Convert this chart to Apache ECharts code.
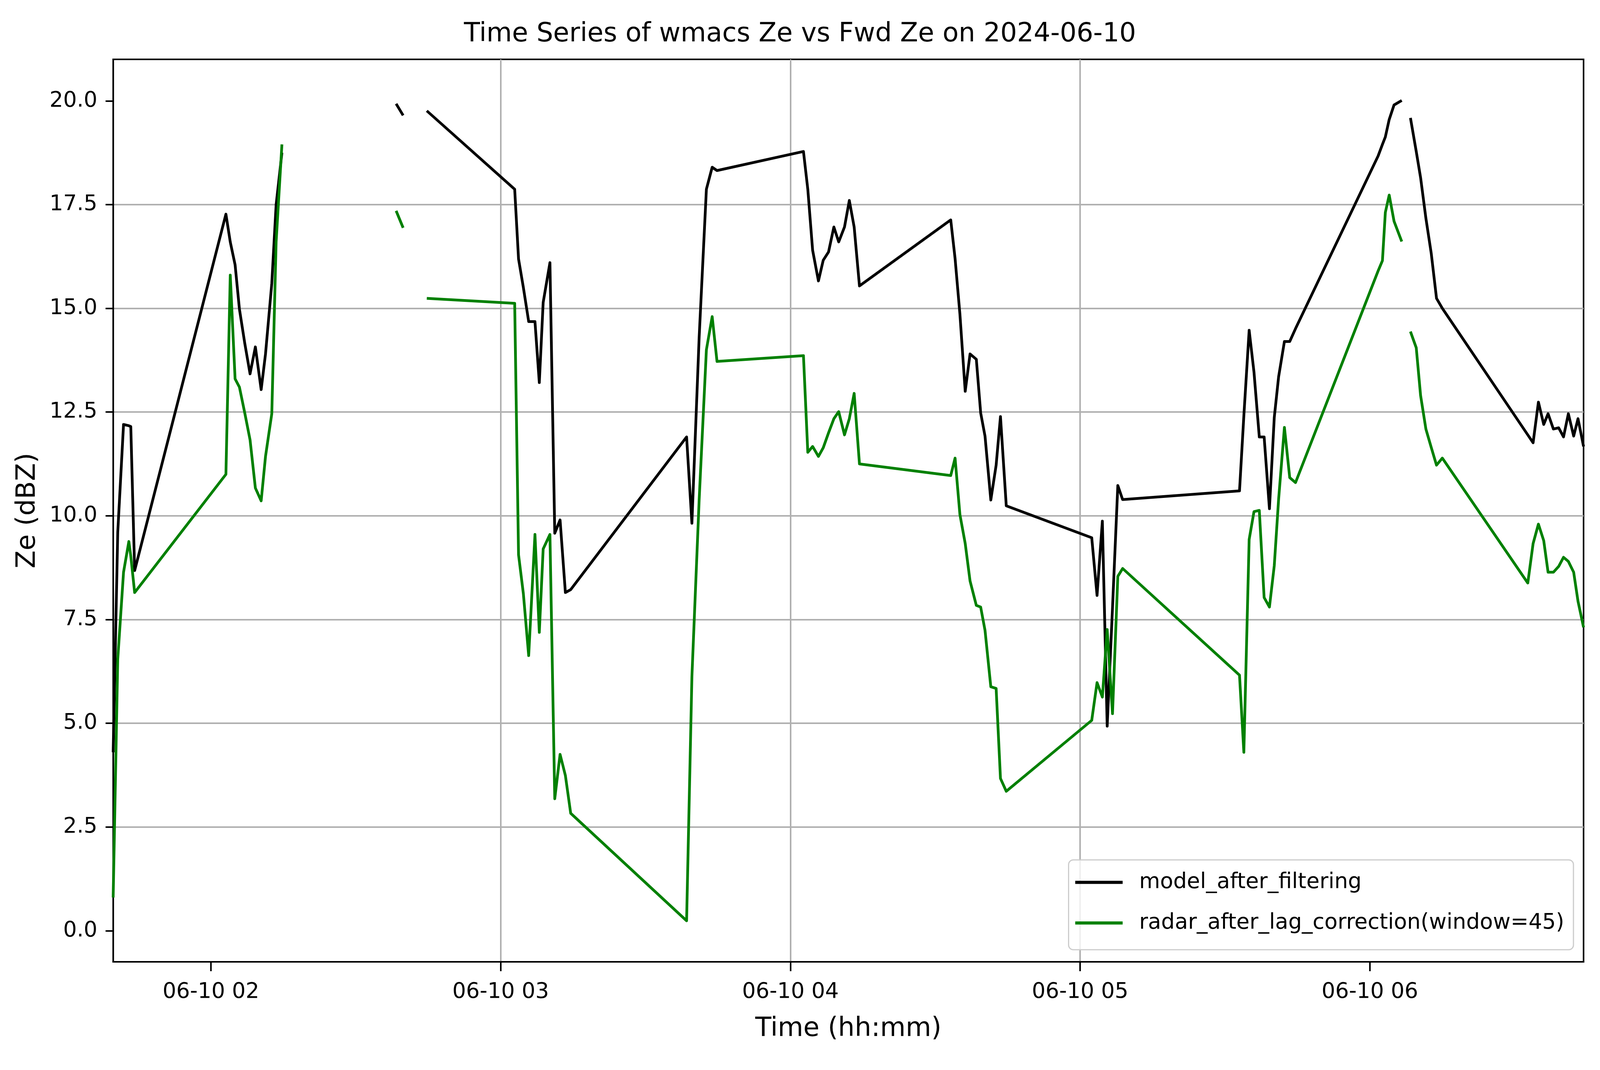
<!DOCTYPE html>
<html>
<head>
<meta charset="utf-8">
<title>wmacs Ze vs Fwd Ze</title>
<script src="https://cdn.jsdelivr.net/npm/echarts@6/dist/echarts.min.js"></script>
<style>
    html, body { margin: 0; padding: 0; background: #fff; overflow: hidden; }
    #chart { width: 100vw; height: 100vh; }
</style>
</head>
<body>
<div id="chart"></div>
<script>
var zeChart = echarts.init(document.getElementById("chart"));

/* sample times (hh:mm:ss on 2024-06-10), null values mark the gaps */
var times = [
    '01:39:45', '01:40:42', '01:41:54', '01:43:00', '01:43:24', '01:44:12',
    '02:03:06', '02:04:00', '02:05:00', '02:05:54', '02:07:00', '02:08:06',
    '02:09:12', '02:10:24', '02:11:18', '02:12:36', '02:13:30', '02:14:42',
    '02:25:00',
    '02:38:21', '02:39:48',
    '02:42:00',
    '02:44:42', '03:02:54', '03:03:42', '03:04:42', '03:05:48', '03:07:06',
    '03:08:00', '03:08:48', '03:10:12', '03:11:12', '03:12:18', '03:13:24', '03:14:30',
    '03:38:30', '03:39:36', '03:41:06', '03:42:36', '03:43:48', '03:44:48',
    '04:02:42', '04:03:36', '04:04:36', '04:05:48', '04:06:48', '04:07:54',
    '04:09:00', '04:10:00', '04:11:12', '04:12:12', '04:13:12', '04:14:18',
    '04:33:12', '04:34:06', '04:35:06', '04:36:12', '04:37:12', '04:38:30',
    '04:39:24', '04:40:18', '04:41:30', '04:42:36', '04:43:30', '04:44:42',
    '05:02:24', '05:03:30', '05:04:36', '05:05:36', '05:06:42', '05:07:48', '05:08:48',
    '05:33:00', '05:33:54', '05:35:00', '05:36:00', '05:37:06', '05:38:06',
    '05:39:12', '05:40:12', '05:41:06', '05:42:18', '05:43:24', '05:44:36',
    '06:01:42', '06:02:36', '06:03:12', '06:04:00', '06:05:00', '06:06:36',
    '06:07:30',
    '06:08:24', '06:09:36', '06:10:30', '06:11:36', '06:12:42', '06:13:48', '06:15:00',
    '06:32:42', '06:33:48', '06:34:54', '06:36:00', '06:36:54', '06:38:00',
    '06:39:06', '06:40:06', '06:41:06', '06:42:12', '06:43:06', '06:44:15'
];

var modelZe = [
    4.3, 9.6, 12.2, 12.17, 12.15, 8.68,
    17.27, 16.6, 16.05, 14.98, 14.16, 13.42,
    14.07, 13.04, 13.9, 15.6, 17.5, 18.75,
    null,
    19.93, 19.65,
    null,
    19.76, 17.87, 16.19, 15.5, 14.68, 14.68,
    13.21, 15.14, 16.1, 9.58, 9.9, 8.15, 8.22,
    11.9, 9.82, 14.3, 17.87, 18.4, 18.32,
    18.78, 17.87, 16.4, 15.66, 16.16, 16.36,
    16.96, 16.6, 16.96, 17.6, 16.96, 15.54,
    17.13, 16.2, 14.86, 13.0, 13.9, 13.77,
    12.48, 11.92, 10.38, 11.22, 12.39, 10.24,
    9.47, 8.08, 9.87, 4.93, 7.78, 10.73, 10.39,
    10.6, 12.41, 14.47, 13.46, 11.9, 11.9,
    10.17, 12.37, 13.35, 14.2, 14.2, 14.51,
    18.67, 18.95, 19.13, 19.55, 19.9, 20.01,
    null,
    19.59, 18.78, 18.15, 17.17, 16.33, 15.24, 15.0,
    11.95, 11.76, 12.74, 12.2, 12.46, 12.09,
    12.12, 11.9, 12.46, 11.92, 12.34, 11.67
];

var radarZe = [
    0.8, 6.54, 8.64, 9.38, 9.03, 8.15,
    11.0, 15.8, 13.3, 13.1, 12.48, 11.83,
    10.67, 10.36, 11.43, 12.46, 16.6, 18.95,
    null,
    17.35, 16.94,
    null,
    15.24, 15.12, 9.06, 8.12, 6.63, 9.55,
    7.19, 9.2, 9.55, 3.18, 4.25, 3.74, 2.83,
    0.24, 6.12, 10.38, 14.0, 14.8, 13.72,
    13.86, 11.53, 11.67, 11.43, 11.64, 12.0,
    12.34, 12.51, 11.95, 12.34, 12.95, 11.25,
    10.97, 11.39, 10.03, 9.33, 8.43, 7.84,
    7.8, 7.24, 5.88, 5.84, 3.67, 3.36,
    5.07, 5.98, 5.63, 7.26, 5.23, 8.54, 8.73,
    6.16, 4.3, 9.43, 10.1, 10.13, 8.03,
    7.8, 8.8, 10.4, 12.13, 10.92, 10.8,
    15.9, 16.15, 17.31, 17.73, 17.1, 16.61,
    null,
    14.44, 14.05, 12.9, 12.09, 11.65, 11.22, 11.39,
    8.38, 9.33, 9.8, 9.4, 8.64, 8.64,
    8.78, 9.0, 8.9, 8.64, 7.94, 7.31
];

var hourTicks = ['02:00:00', '03:00:00', '04:00:00', '05:00:00', '06:00:00'];
var zeTicks = [0, 2.5, 5, 7.5, 10, 12.5, 15, 17.5, 20];

/* hh:mm:ss -> UTC millis on 2024-06-10 */
function toMillis(hms) {
    var p = hms.split(':');
    return Date.UTC(2024, 5, 10, +p[0], +p[1], +p[2]);
}

function pairUp(values) {
    var res = [];
    for (var i = 0; i < times.length; i++) {
        res.push([toMillis(times[i]), values[i]]);
    }
    return res;
}

var hourValues = hourTicks.map(toMillis);
var FONT = 'DejaVu Sans';

/* the layout was measured on a 5062x2740 figure, scale it to the real window */
var sx = zeChart.getWidth() / 5062;
var sy = zeChart.getHeight() / 2740;

var zeOption = {
    backgroundColor: '#ffffff',
    animation: false,
    title: {
        text: 'Time Series of wmacs Ze vs Fwd Ze on 2024-06-10',
        left: 'center',
        top: 50 * sy,
        textStyle: {
            fontFamily: FONT,
            fontSize: 83 * sx,
            fontWeight: 'normal',
            color: '#000'
        }
    },
    grid: {
        left: 358 * sx,
        right: 52 * sx,
        top: 152 * sy,
        bottom: 277 * sy,
        show: true,
        borderColor: '#000',
        borderWidth: 4,
        containLabel: false
    },
    legend: {
        orient: 'vertical',
        right: 84 * sx,
        bottom: 308 * sy,
        icon: 'rect',
        itemWidth: 150 * sx,
        itemHeight: 8,
        itemGap: 21 * sy,
        padding: [16 * sy, 29 * sx, 27 * sy, 21 * sx],
        backgroundColor: 'rgba(255,255,255,0.8)',
        borderColor: '#cccccc',
        borderWidth: 3,
        borderRadius: 12,
        textStyle: {
            fontFamily: FONT,
            fontSize: 68 * sx,
            lineHeight: 83 * sy,
            color: '#000',
            padding: [0, 0, 0, 46 * sx]
        },
        data: ['model_after_filtering', 'radar_after_lag_correction(window=45)']
    },
    xAxis: {
        type: 'value',
        min: toMillis(times[0]),
        max: toMillis(times[times.length - 1]),
        minInterval: 3600000,
        maxInterval: 3600000,
        name: 'Time (hh:mm)',
        nameLocation: 'middle',
        nameGap: 139 * sy,
        nameTextStyle: { fontFamily: FONT, fontSize: 83 * sx, color: '#000' },
        axisLine: { show: true, onZero: false, lineStyle: { color: '#000', width: 4 } },
        axisTick: {
            show: true,
            length: 24 * sy,
            customValues: hourValues,
            lineStyle: { color: '#000', width: 4 }
        },
        axisLabel: {
            fontFamily: FONT,
            fontSize: 68 * sx,
            color: '#000',
            margin: 50 * sy,
            customValues: hourValues,
            formatter: function (v) {
                var h = new Date(v).getUTCHours();
                return '06-10 ' + (h < 10 ? '0' + h : h);
            }
        },
        splitLine: {
            show: true,
            showMinLine: false,
            showMaxLine: false,
            lineStyle: { color: '#b0b0b0', width: 4 }
        }
    },
    yAxis: {
        type: 'value',
        min: -0.75,
        max: 21.0,
        minInterval: 2.5,
        maxInterval: 2.5,
        name: 'Ze (dBZ)',
        nameLocation: 'middle',
        nameGap: 228 * sx,
        nameTextStyle: { fontFamily: FONT, fontSize: 83 * sx, color: '#000' },
        axisLine: { show: true, onZero: false, lineStyle: { color: '#000', width: 4 } },
        axisTick: {
            show: true,
            length: 24 * sx,
            customValues: zeTicks,
            lineStyle: { color: '#000', width: 4 }
        },
        axisLabel: {
            fontFamily: FONT,
            fontSize: 68 * sx,
            color: '#000',
            margin: 50 * sx,
            customValues: zeTicks,
            formatter: function (v) {
                return v.toFixed(1);
            }
        },
        splitLine: {
            show: true,
            showMinLine: false,
            showMaxLine: false,
            lineStyle: { color: '#b0b0b0', width: 4 }
        }
    },
    series: [{
        name: 'model_after_filtering',
        type: 'line',
        data: pairUp(modelZe),
        showSymbol: false,
        connectNulls: false,
        color: '#000000',
        lineStyle: { color: '#000000', width: 7, join: 'round' },
        z: 3
    }, {
        name: 'radar_after_lag_correction(window=45)',
        type: 'line',
        data: pairUp(radarZe),
        showSymbol: false,
        connectNulls: false,
        color: '#008000',
        lineStyle: { color: '#008000', width: 7, join: 'round' },
        z: 3
    }]
};

zeChart.setOption(zeOption);

window.onresize = function () {
    zeChart.resize();
};
</script>
</body>
</html>
